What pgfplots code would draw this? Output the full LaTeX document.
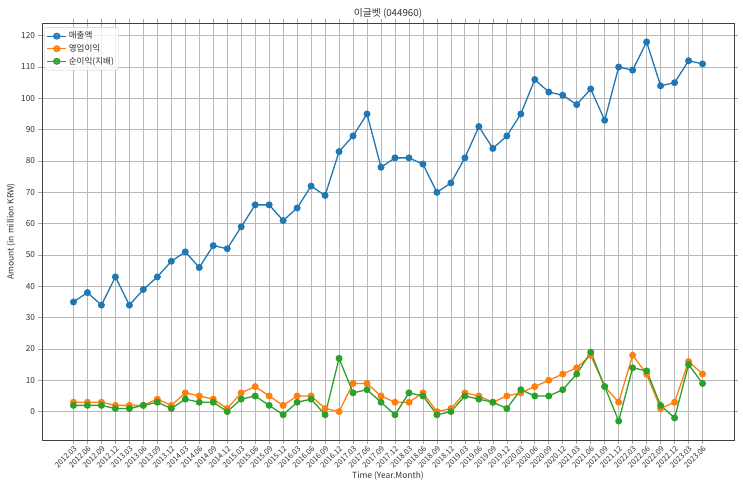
\documentclass[border=0pt]{standalone}
\usepackage{pgfplots}
\pgfplotsset{compat=1.18}
\usepackage{fontspec}
\setmainfont{Noto Sans CJK KR}
\definecolor{tabblue}{HTML}{1F77B4}
\definecolor{taborange}{HTML}{FF7F0E}
\definecolor{tabgreen}{HTML}{2CA02C}
\definecolor{txt}{HTML}{333333}
\begin{document}
\begin{tikzpicture}
\useasboundingbox (-42bp,-55bp) rectangle (701bp,440bp);
\begin{axis}[
  anchor=south west, at={(0,0)},
  scale only axis, width=692bp, height=417bp,
  xmin=-2.25, xmax=47.25, ymin=-9.05, ymax=124.05,
  xtick={0,...,45},
  xticklabels={2012.03,2012.06,2012.09,2012.12,2013.03,2013.06,2013.09,2013.12,2014.03,2014.06,2014.09,2014.12,2015.03,2015.06,2015.09,2015.12,2016.03,2016.06,2016.09,2016.12,2017.03,2017.06,2017.09,2017.12,2018.03,2018.06,2018.09,2018.12,2019.03,2019.06,2019.09,2019.12,2020.03,2020.06,2020.09,2020.12,2021.03,2021.06,2021.09,2021.12,2022.03,2022.06,2022.09,2022.12,2023.03,2023.06},
  ytick={0,10,...,120},
  x tick label style={rotate=45, anchor=north east, font=\fontsize{7.6}{8}\selectfont, text=txt, inner sep=1pt},
  y tick label style={font=\fontsize{8.3}{9}\selectfont, text=txt},
  /pgf/number format/assume math mode=true,
  tick align=outside, major tick length=3.5bp,
  tick style={black!35, line width=0.6bp},
  grid=major,
  major grid style={black!28, line width=0.8bp},
  axis line style={black!75, line width=0.8bp},
  title={이글벳 (044960)},
  title style={font=\fontsize{9.8}{11}\selectfont, text=txt, yshift=-5bp},
  xlabel={Time (Year.Month)},
  ylabel={Amount (in million KRW)},
  xlabel style={font=\fontsize{8.5}{9}\selectfont, text=txt, yshift=2bp},
  ylabel style={font=\fontsize{8.5}{9}\selectfont, text=txt, yshift=-1bp},
  legend style={font=\fontsize{8.6}{10}\selectfont, text=txt, draw=black!20, rounded corners=2bp, fill=white, fill opacity=0.8, text opacity=1, at={(0.003,0.99)}, anchor=north west, row sep=0bp, inner sep=2.5pt},
  legend cell align=left,
  legend image post style={xscale=1.1},
  every axis plot/.append style={line width=1.3bp, mark=*, mark size=2.8bp},
]
\addplot[color=tabblue, mark options={fill=tabblue, draw=tabblue}] coordinates {
(0,35)(1,38)(2,34)(3,43)(4,34)(5,39)(6,43)(7,48)(8,51)(9,46)(10,53)(11,52)(12,59)(13,66)(14,66)(15,61)(16,65)(17,72)(18,69)(19,83)(20,88)(21,95)(22,78)(23,81)(24,81)(25,79)(26,70)(27,73)(28,81)(29,91)(30,84)(31,88)(32,95)(33,106)(34,102)(35,101)(36,98)(37,103)(38,93)(39,110)(40,109)(41,118)(42,104)(43,105)(44,112)(45,111)};
\addlegendentry{매출액}
\addplot[color=taborange, mark options={fill=taborange, draw=taborange}] coordinates {
(0,3)(1,3)(2,3)(3,2)(4,2)(5,2)(6,4)(7,2)(8,6)(9,5)(10,4)(11,1)(12,6)(13,8)(14,5)(15,2)(16,5)(17,5)(18,1)(19,0)(20,9)(21,9)(22,5)(23,3)(24,3)(25,6)(26,0)(27,1)(28,6)(29,5)(30,3)(31,5)(32,6)(33,8)(34,10)(35,12)(36,14)(37,18)(38,8)(39,3)(40,18)(41,12)(42,1)(43,3)(44,16)(45,12)};
\addlegendentry{영업이익}
\addplot[color=tabgreen, mark options={fill=tabgreen, draw=tabgreen}] coordinates {
(0,2)(1,2)(2,2)(3,1)(4,1)(5,2)(6,3)(7,1)(8,4)(9,3)(10,3)(11,0)(12,4)(13,5)(14,2)(15,-1)(16,3)(17,4)(18,-1)(19,17)(20,6)(21,7)(22,3)(23,-1)(24,6)(25,5)(26,-1)(27,0)(28,5)(29,4)(30,3)(31,1)(32,7)(33,5)(34,5)(35,7)(36,12)(37,19)(38,8)(39,-3)(40,14)(41,13)(42,2)(43,-2)(44,15)(45,9)};
\addlegendentry{순이익(지배)}
\end{axis}
\end{tikzpicture}
\end{document}
